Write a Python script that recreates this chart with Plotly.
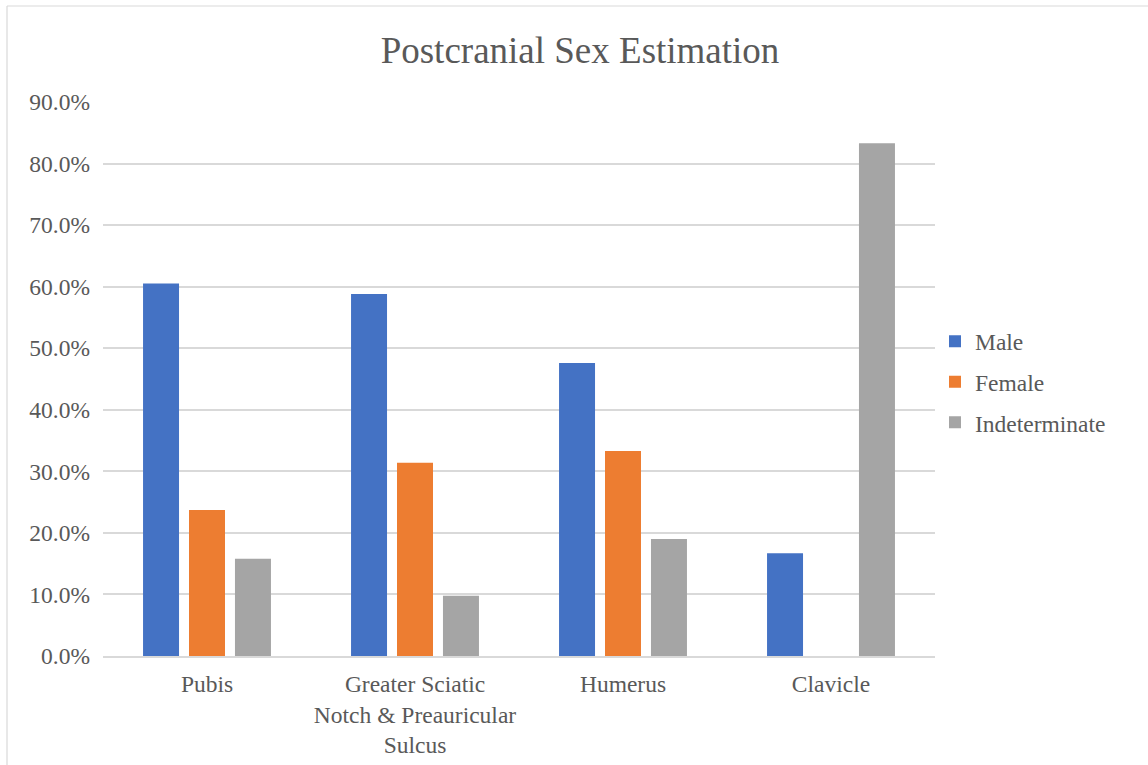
import plotly.graph_objects as go

# Bone elements assessed
categories = [
    "Pubis",
    "Greater Sciatic<br>Notch & Preauricular<br>Sulcus",
    "Humerus",
    "Clavicle",
]

# Share of individuals per estimated sex (fractions)
male = [0.605, 0.588, 0.476, 0.167]
female = [0.237, 0.314, 0.333, 0.0]
indeterminate = [0.158, 0.098, 0.190, 0.833]

series_names = ["Male", "Female", "Indeterminate"]
series_values = [male, female, indeterminate]
series_colors = ["#4472C4", "#ED7D31", "#A5A5A5"]

y_tick_values = [i / 10 for i in range(10)]
y_tick_labels = [f"{v * 100:.1f}%" for v in y_tick_values]

W, H = 1148, 765
ML, MR, MT, MB = 103, 213, 102, 109
TEXT = "#595959"
FONT = "Times New Roman, Liberation Serif, DejaVu Serif, serif"

fig = go.Figure()
for name, vals, col in zip(series_names, series_values, series_colors):
    fig.add_trace(go.Bar(
        x=categories, y=vals, name=name, legendgroup=name,
        marker=dict(color=col, line=dict(width=0)),
    ))

# chart frame (top and left edges)
pw, ph = W - ML - MR, H - MT - MB
fx0 = (7 - ML) / pw
fy1 = (H - MB - 6) / ph
fig.add_shape(type="line", xref="paper", yref="paper",
              x0=fx0, x1=(W - ML) / pw + 0.01, y0=fy1, y1=fy1,
              line=dict(color="#D9D9D9", width=1.2))
fig.add_shape(type="line", xref="paper", yref="paper",
              x0=fx0, x1=fx0, y0=fy1, y1=-(MB + 2) / ph,
              line=dict(color="#D9D9D9", width=1.2))

fig.update_layout(
    width=W, height=H, autosize=False,
    margin=dict(l=ML, r=MR, t=MT, b=MB),
    paper_bgcolor="white", plot_bgcolor="white",
    font=dict(family=FONT, color=TEXT, size=23.5),
    title=dict(text="Postcranial Sex Estimation", x=580 / W, xanchor="center",
               y=1 - 50 / H, yanchor="middle", yref="container",
               font=dict(family=FONT, size=37, color=TEXT)),
    barmode="group", bargap=0.337, bargroupgap=0.217,
    showlegend=True,
    legend=dict(x=1.0, xanchor="left", y=0.4946, yanchor="middle",
                traceorder="grouped", tracegroupgap=7,
                font=dict(family=FONT, size=23.5, color=TEXT),
                bgcolor="rgba(0,0,0,0)"),
    xaxis=dict(showgrid=False, showline=True, linecolor="#D9D9D9", linewidth=1.5,
               ticks="", tickfont=dict(family=FONT, size=23.5, color=TEXT),
               ticklabelstandoff=6, automargin=False),
    yaxis=dict(range=[0, 0.9], tickvals=y_tick_values, ticktext=y_tick_labels,
               showgrid=True, gridcolor="#D9D9D9", gridwidth=1.5,
               zeroline=False, showline=False, ticks="",
               tickfont=dict(family=FONT, size=23.5, color=TEXT),
               ticklabelstandoff=12, automargin=False),
)

fig.write_html("out.html")
